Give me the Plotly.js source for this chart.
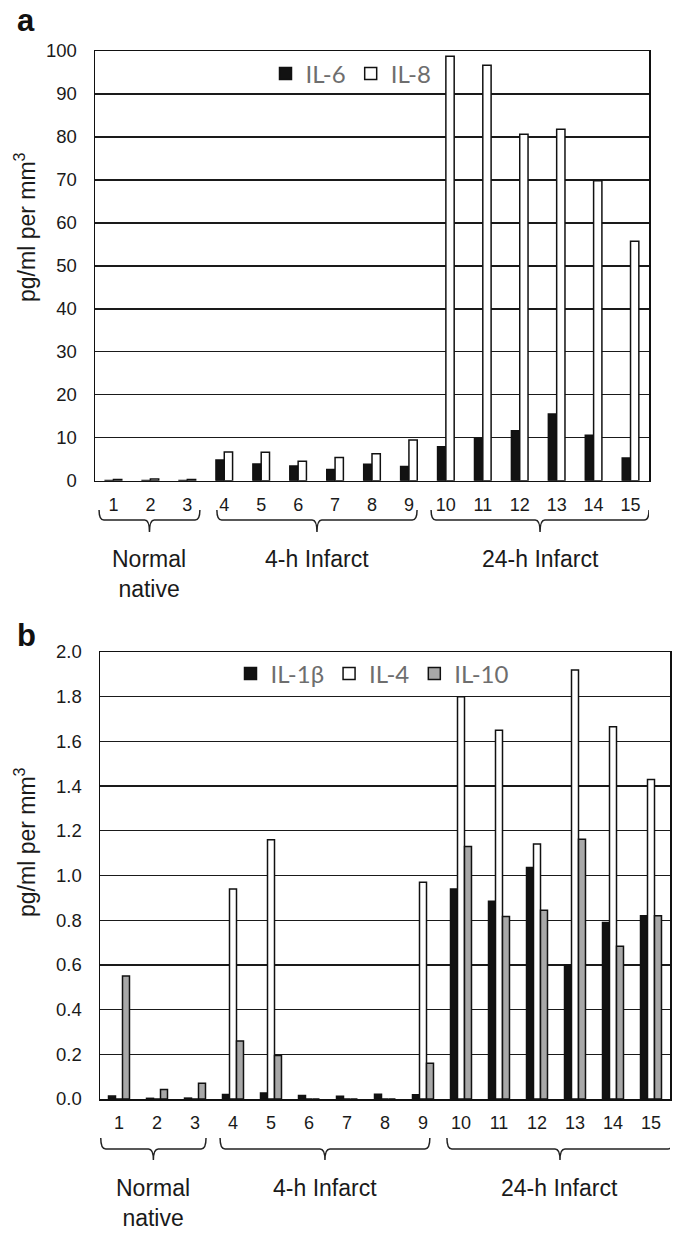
<!DOCTYPE html>
<html>
<head>
<meta charset="utf-8">
<script src="https://cdn.plot.ly/plotly-3.0.1.min.js"></script>
<style>
  html, body { margin: 0; padding: 0; background: #fff; }
  #chart { width: 675px; height: 1233px; }
</style>
</head>
<body>
<div id="chart"></div>
<script>
// ---------- data ----------
const samples = [1, 2, 3, 4, 5, 6, 7, 8, 9, 10, 11, 12, 13, 14, 15];
const tickLabels = ['1','2','3','4','5','6','7','8','9','10','11','12','13','14','15'];

// Panel a
const il6 = [0.05, 0.05, 0.05, 4.8, 3.9, 3.4, 2.6, 3.8, 3.3, 7.9, 9.8, 11.6, 15.5, 10.6, 5.3];
const il8 = [0.3, 0.4, 0.3, 6.7, 6.6, 4.5, 5.4, 6.3, 9.5, 98.8, 96.7, 80.6, 81.8, 69.8, 55.7];

// Panel b
const il1b = [0.013, 0.003, 0.004, 0.02, 0.027, 0.016, 0.012, 0.021, 0.019, 0.94, 0.885, 1.036, 0.60, 0.79, 0.82];
const il4  = [0, 0, 0, 0.94, 1.16, 0, 0, 0, 0.97, 1.80, 1.65, 1.141, 1.92, 1.665, 1.43];
const il10 = [0.55, 0.043, 0.071, 0.26, 0.195, 0, 0, 0, 0.16, 1.13, 0.817, 0.844, 1.162, 0.683, 0.82];

const groupLabels = ['Normal<br>native', '4-h Infarct', '24-h Infarct'];
const yTitle = 'pg/ml per mm<sup>3</sup>';

// ---------- layout config (positions / styles) ----------
const W = 675, H = 1233;
const px = v => v / W;
const py = v => 1 - v / H;

const braceA = [[0.61, 3.34], [3.80, 9.22], [9.60, 15.5]];
const braceB = [[0.52, 3.29], [3.66, 9.18], [9.63, 15.58]];

const FAM = 'Liberation Sans, Arial, sans-serif';
const tickFont = { family: FAM, size: 18, color: '#1a1a1a' };
const yTickFont = { family: FAM, size: 18.5, color: '#1a1a1a' };
const legFont = { family: 'Lato, Open Sans, sans-serif', size: 24, color: '#6e6e6e' };
const outline = { color: '#111', width: 1.5 };

function braceShape(x0, x1, yTop, yMid, yTip, xref) {
  const xm = (x0 + x1) / 2, dx = 0.13;
  const path = `M ${x0},${yTop} Q ${x0},${yMid} ${x0 + dx},${yMid} L ${xm - dx},${yMid} ` +
               `Q ${xm},${yMid} ${xm},${yTip} Q ${xm},${yMid} ${xm + dx},${yMid} ` +
               `L ${x1 - dx},${yMid} Q ${x1},${yMid} ${x1},${yTop}`;
  return { type: 'path', xref: xref, yref: 'paper', path: path,
           line: { color: '#222', width: 1.5 } };
}

const traces = [
  { type: 'bar', x: samples, y: il6, name: 'IL-6', xaxis: 'x', yaxis: 'y',
    width: 0.225, offset: -0.225, marker: { color: '#121212', line: outline }, legend: 'legend' },
  { type: 'bar', x: samples, y: il8, name: 'IL-8', xaxis: 'x', yaxis: 'y',
    width: 0.225, offset: 0, marker: { color: '#ffffff', line: outline }, legend: 'legend' },
  { type: 'bar', x: samples, y: il1b, name: 'IL-1\u03b2', xaxis: 'x2', yaxis: 'y2',
    width: 0.184, offset: -0.276, marker: { color: '#121212', line: outline }, legend: 'legend2' },
  { type: 'bar', x: samples, y: il4, name: 'IL-4', xaxis: 'x2', yaxis: 'y2',
    width: 0.184, offset: -0.092, marker: { color: '#ffffff', line: outline }, legend: 'legend2' },
  { type: 'bar', x: samples, y: il10, name: 'IL-10', xaxis: 'x2', yaxis: 'y2',
    width: 0.184, offset: 0.092, marker: { color: '#a8a8a8', line: outline }, legend: 'legend2' }
];

const xCommon = {
  type: 'linear', range: [0.5, 15.5], tickmode: 'array', tickvals: samples, ticktext: tickLabels,
  showgrid: false, zeroline: false, showline: true, linecolor: '#111', linewidth: 1.5, mirror: true,
  ticks: '', tickfont: tickFont, ticklabelstandoff: 7, fixedrange: true
};
const yCommon = {
  showgrid: true, gridcolor: '#1a1a1a', gridwidth: 1.4, zeroline: false,
  showline: true, linecolor: '#111', linewidth: 1.5, mirror: true,
  ticks: '', tickfont: yTickFont, ticklabelstandoff: 13, fixedrange: true
};

const shapes = [];
braceA.forEach(b => shapes.push(braceShape(b[0], b[1], py(510), py(520), py(532), 'x')));
braceB.forEach(b => shapes.push(braceShape(b[0], b[1], py(1138), py(1149), py(1160), 'x2')));

const groupFont = { family: FAM, size: 23, color: '#1a1a1a' };
const titleFont = { family: FAM, size: 23, color: '#1a1a1a' };
const panelFont = { family: FAM, size: 31, color: '#111' };
const annotations = [
  { text: '<b>a</b>', xref: 'paper', yref: 'paper', x: px(26), y: py(20),
    xanchor: 'center', yanchor: 'middle', showarrow: false, font: panelFont },
  { text: '<b>b</b>', xref: 'paper', yref: 'paper', x: px(26), y: py(635),
    xanchor: 'center', yanchor: 'middle', showarrow: false, font: panelFont },
  { text: yTitle, xref: 'paper', yref: 'paper', x: px(25), y: py(227), textangle: -90,
    xanchor: 'center', yanchor: 'middle', showarrow: false, font: titleFont },
  { text: yTitle, xref: 'paper', yref: 'paper', x: px(25), y: py(842), textangle: -90,
    xanchor: 'center', yanchor: 'middle', showarrow: false, font: titleFont }
];
groupLabels.forEach((g, i) => {
  annotations.push({ text: g, xref: 'x', yref: 'paper', x: (braceA[i][0] + braceA[i][1]) / 2,
    y: py(544), xanchor: 'center', yanchor: 'top', showarrow: false, font: groupFont });
  annotations.push({ text: g, xref: 'x2', yref: 'paper', x: (braceB[i][0] + braceB[i][1]) / 2,
    y: py(1173), xanchor: 'center', yanchor: 'top', showarrow: false, font: groupFont });
});

const layout = {
  width: W, height: H,
  margin: { l: 0, r: 0, t: 0, b: 0 },
  paper_bgcolor: '#fff', plot_bgcolor: '#fff',
  barmode: 'group',
  showlegend: true,
  xaxis: Object.assign({}, xCommon, { domain: [px(95), px(649)], anchor: 'y' }),
  yaxis: Object.assign({}, yCommon, { domain: [py(480.7), py(51)], range: [0, 100], dtick: 10, anchor: 'x' }),
  xaxis2: Object.assign({}, xCommon, { domain: [px(100), px(670)], anchor: 'y2' }),
  yaxis2: Object.assign({}, yCommon, { domain: [py(1099), py(652)], range: [0, 2], dtick: 0.2,
    tickformat: '.1f', anchor: 'x2' }),
  legend: { orientation: 'h', x: px(351), y: py(74), xanchor: 'center', yanchor: 'middle',
    bgcolor: 'rgba(0,0,0,0)', font: legFont, itemwidth: 30, traceorder: 'normal' },
  legend2: { orientation: 'h', x: px(372), y: py(674), xanchor: 'center', yanchor: 'middle',
    bgcolor: 'rgba(0,0,0,0)', font: legFont, itemwidth: 30, traceorder: 'normal' },
  shapes: shapes,
  annotations: annotations
};

Plotly.newPlot('chart', traces, layout, { staticPlot: true, displayModeBar: false });
</script>
</body>
</html>
